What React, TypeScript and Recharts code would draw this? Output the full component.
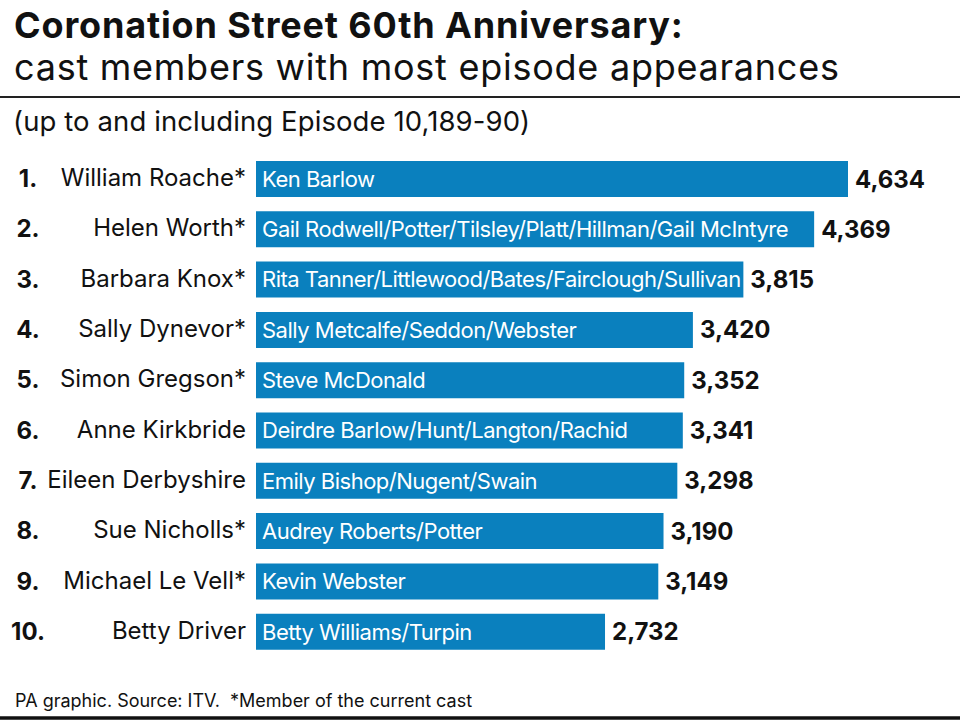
import { BarChart, Bar, XAxis, YAxis, LabelList } from "recharts";

const actors = [
  "William Roache*",
  "Helen Worth*",
  "Barbara Knox*",
  "Sally Dynevor*",
  "Simon Gregson*",
  "Anne Kirkbride",
  "Eileen Derbyshire",
  "Sue Nicholls*",
  "Michael Le Vell*",
  "Betty Driver",
];

const characters = [
  "Ken Barlow",
  "Gail Rodwell/Potter/Tilsley/Platt/Hillman/Gail McIntyre",
  "Rita Tanner/Littlewood/Bates/Fairclough/Sullivan",
  "Sally Metcalfe/Seddon/Webster",
  "Steve McDonald",
  "Deirdre Barlow/Hunt/Langton/Rachid",
  "Emily Bishop/Nugent/Swain",
  "Audrey Roberts/Potter",
  "Kevin Webster",
  "Betty Williams/Turpin",
];

const appearances = [4634, 4369, 3815, 3420, 3352, 3341, 3298, 3190, 3149, 2732];

const data = actors.map((actor, i) => ({
  rank: i + 1,
  actor,
  character: characters[i],
  appearances: appearances[i],
}));

const FONT = "Inter, 'Noto Sans', sans-serif";
const BLUE = "#0a80be";

const ActorTick = (props: any) => {
  const { y, payload, index } = props;
  return (
    <g>
      <text
        x={28}
        y={y}
        dy={8}
        textAnchor="middle"
        fontFamily={FONT}
        fontWeight={700}
        fontSize={24}
        fill="#111"
      >
        {`${index + 1}.`}
      </text>
      <text
        x={246}
        y={y}
        dy={7}
        textAnchor="end"
        fontFamily={FONT}
        fontSize={24}
        fill="#111"
      >
        {payload.value}
      </text>
    </g>
  );
};

export default function App() {
  return (
    <div
      style={{
        position: "absolute",
        left: 0,
        top: 0,
        width: 960,
        height: 727,
        background: "#fff",
        fontFamily: FONT,
      }}
    >
      <BarChart
        width={960}
        height={727}
        data={data}
        layout="vertical"
        margin={{ top: 154, right: 112, bottom: 70, left: 0 }}
      >
        <XAxis type="number" hide domain={[0, Math.max(...appearances)]} />
        <YAxis
          type="category"
          dataKey="actor"
          width={256}
          axisLine={false}
          tickLine={false}
          tick={<ActorTick />}
          interval={0}
        />
        <Bar dataKey="appearances" fill={BLUE} barSize={36} isAnimationActive={false}>
          <LabelList
            dataKey="character"
            position="insideLeft"
            offset={6}
            fill="#fff"
            fontFamily={FONT}
            fontSize={22}
            letterSpacing={-0.5}
          />
          <LabelList
            dataKey="appearances"
            position="right"
            offset={7}
            fill="#111"
            fontFamily={FONT}
            fontWeight={700}
            fontSize={24}
            formatter={(v: any) => Number(v).toLocaleString("en-GB")}
          />
        </Bar>
      </BarChart>
      <svg
        width={960}
        height={727}
        style={{ position: "absolute", left: 0, top: 0, pointerEvents: "none" }}
      >
        <text x={14} y={38} fontFamily={FONT} fontWeight={700} fontSize={36} fill="#111" letterSpacing={0.85}>
          Coronation Street 60th Anniversary:
        </text>
        <text x={14} y={80} fontFamily={FONT} fontSize={36} fill="#111" letterSpacing={0.75}>
          cast members with most episode appearances
        </text>
        <line x1={0} x2={960} y1={97} y2={97} stroke="#222" strokeWidth={2} />
        <text x={13} y={131} fontFamily={FONT} fontSize={27.5} fill="#111" letterSpacing={0.1}>
          (up to and including Episode 10,189-90)
        </text>
        <text
          x={15}
          y={707}
          fontFamily={FONT}
          fontSize={18}
          fill="#111"
          style={{ whiteSpace: "pre" }}
        >
          {"PA graphic. Source: ITV.  *Member of the current cast"}
        </text>
        <line x1={0} x2={960} y1={718} y2={718} stroke="#111" strokeWidth={3.5} />
      </svg>
    </div>
  );
}
